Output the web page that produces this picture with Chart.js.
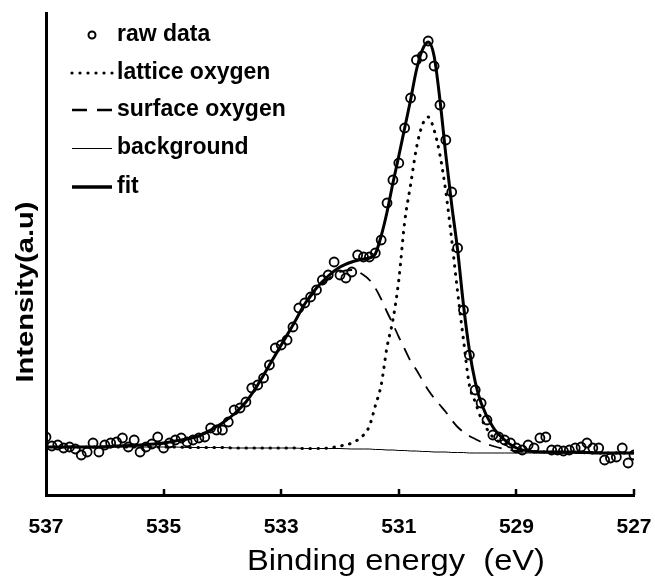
<!DOCTYPE html>
<html>
<head>
<meta charset="utf-8">
<script src="https://cdn.jsdelivr.net/npm/chart.js@4/dist/chart.umd.min.js"></script>
<style>
  html, body { margin: 0; padding: 0; background: #fff; }
  #wrap { width: 655px; height: 577px; position: relative; }
</style>
</head>
<body>
<div id="wrap"><canvas id="xps" width="655" height="577"></canvas></div>
<script>
// ---------- Data (binding energy in eV, intensity in arbitrary units) ----------
const rawE = [
  537.0, 536.9, 536.8, 536.7, 536.6, 536.5, 536.4, 536.3, 536.2, 536.1,
  536.0, 535.9, 535.8, 535.7, 535.6, 535.5, 535.4, 535.3, 535.2, 535.1,
  535.0, 534.9, 534.8, 534.7, 534.6, 534.5, 534.4, 534.3, 534.2, 534.1,
  534.0, 533.9, 533.8, 533.7, 533.6, 533.5, 533.4, 533.3, 533.2, 533.1,
  533.0, 532.9, 532.8, 532.7, 532.6, 532.5, 532.4, 532.3, 532.2, 532.1,
  532.0, 531.9, 531.8, 531.7, 531.6, 531.5, 531.4, 531.3, 531.2, 531.1,
  531.0, 530.9, 530.8, 530.7, 530.6, 530.5, 530.4, 530.3, 530.2, 530.1,
  530.0, 529.9, 529.8, 529.7, 529.6, 529.5, 529.4, 529.3, 529.2, 529.1,
  529.0, 528.9, 528.8, 528.7, 528.6, 528.5, 528.4, 528.3, 528.2, 528.1,
  528.0, 527.9, 527.8, 527.7, 527.6, 527.5, 527.4, 527.3, 527.2, 527.1,
  527.0
];
const rawI = [
  58, 49, 50, 47, 48, 46, 40, 43, 52, 43,
  50, 52, 53, 57, 48, 55, 43, 48, 51, 58,
  47, 52, 55, 57, 53, 55, 57, 58, 67, 65,
  65, 73, 85, 87, 93, 107, 110, 117, 130, 147,
  150, 155, 168, 187, 192, 198, 205, 215, 220, 233,
  220, 217, 223, 240, 238, 238, 242, 255, 292, 315,
  332, 367, 397, 435, 439, 454, 429, 390, 355, 303,
  247, 185, 140, 105, 92, 75, 60, 58, 55, 52,
  47, 45, 50, 47, 57, 58, 45, 45, 44, 45,
  47, 48, 52, 47, 47, 35, 37, 38, 47, 32,
  40
];

const lineE = [
  537, 536.6, 536.2, 535.8, 535.4, 535, 534.8, 534.6, 534.4, 534.2,
  534, 533.8, 533.6, 533.4, 533.2, 533, 532.8, 532.6, 532.4, 532.2,
  532, 531.8, 531.6, 531.5, 531.4, 531.3, 531.2, 531.1, 531, 530.9,
  530.8, 530.7, 530.6, 530.5, 530.4, 530.3, 530.2, 530.1, 530, 529.9,
  529.8, 529.7, 529.6, 529.4, 529.2, 529, 528.8, 528.4, 528, 527.6,
  527.2, 527
];
const latticeI = [
  48, 48, 48, 48, 48, 48, 48, 47.5, 47.5, 47.5,
  47.5, 47, 47, 47, 47, 47, 47, 46.5, 46.5, 47,
  49, 52, 60, 69, 89, 110, 148, 175, 215, 273,
  310, 347, 370, 378, 365, 340, 303, 255, 203, 155,
  110, 93, 77, 58, 51, 47, 44, 43, 42.5, 42,
  42, 42
];
const surfaceI = [
  48, 48, 48, 49, 50, 52, 54, 56, 59, 65,
  72, 81, 93, 110, 130, 150, 170, 190, 205, 216,
  223, 225, 220, 215, 207, 196, 183, 171, 158, 146,
  134, 125, 115, 105, 97, 90, 83, 75, 68, 63,
  59, 56, 53, 49, 46, 44, 43, 42.5, 42, 42,
  42, 42
];
const backgroundI = [
  48, 48, 48, 48, 48, 48, 48, 47.5, 47.5, 47.5,
  47.5, 47, 47, 47, 47, 47, 47, 46.5, 46.5, 46.5,
  46.5, 46, 46, 46, 45.5, 45.5, 45, 45, 44.5, 44.5,
  44, 44, 43.5, 43.5, 43, 43, 43, 42.5, 42.5, 42.5,
  42, 42, 42, 42, 42, 42, 42, 42, 42, 42,
  42, 42
];
const fitI = [
  48, 48, 48, 49, 50, 52, 54, 56, 59, 65,
  72, 81, 93, 110, 130, 150, 170, 191, 207, 219,
  228, 233, 236, 237, 241, 259, 283, 312, 339, 367,
  395, 425, 445, 453, 439, 395, 340, 290, 245, 190,
  145, 113, 92, 68, 55, 47, 44, 43, 43, 42,
  42, 42
];

const xTicks = [537, 535, 533, 531, 529, 527];
const seriesLabels = ["raw data", "lattice oxygen", "surface oxygen", "background", "fit"];
const xTitle = "Binding energy  (eV)";
const yTitle = "Intensity(a.u)";

// ---------- helpers ----------
function pts(xs, ys) {
  return xs.map((x, i) => ({ x: x, y: ys[i] }));
}

const FONT = "'Liberation Sans', Arial, sans-serif";

// ---------- plugin: inward tick marks, titles, legend ----------
const decorPlugin = {
  id: "decor",
  afterDraw(chart) {
    const ctx = chart.ctx;
    const xs = chart.scales.x;
    const area = chart.chartArea;
    ctx.save();
    ctx.strokeStyle = "#000";
    ctx.fillStyle = "#000";

    // tick marks pointing up into the plot
    ctx.lineWidth = 2.5;
    xTicks.slice(1).forEach(v => {
      const px = Math.round(xs.getPixelForValue(v));
      ctx.beginPath();
      ctx.moveTo(px, area.bottom);
      ctx.lineTo(px, area.bottom - 6);
      ctx.stroke();
    });

    // x title
    ctx.font = "30px " + FONT;
    ctx.textAlign = "center";
    ctx.textBaseline = "alphabetic";
    let w = ctx.measureText(xTitle).width;
    ctx.save();
    ctx.translate(396, 570);
    ctx.scale(298 / w, 1);
    ctx.fillText(xTitle, 0, 0);
    ctx.restore();

    // y title
    ctx.font = "bold 24px " + FONT;
    w = ctx.measureText(yTitle).width;
    ctx.save();
    ctx.translate(26, 292);
    ctx.rotate(-Math.PI / 2);
    ctx.scale(181 / w, 1);
    ctx.textBaseline = "middle";
    ctx.fillText(yTitle, 0, 0);
    ctx.restore();

    // legend
    const rows = [35, 73, 110, 148, 187];
    const x0 = 72, x1 = 112, tx = 117;
    // raw data marker
    ctx.lineWidth = 2;
    ctx.beginPath();
    ctx.arc(92, rows[0], 3.5, 0, Math.PI * 2);
    ctx.stroke();
    // lattice: dots
    for (let x = x0; x <= x1 + 0.1; x += 8) {
      ctx.beginPath();
      ctx.arc(x, rows[1], 1.6, 0, Math.PI * 2);
      ctx.fill();
    }
    // surface: dashes
    ctx.lineWidth = 2.5;
    ctx.beginPath();
    ctx.moveTo(x0, rows[2]); ctx.lineTo(x0 + 15, rows[2]);
    ctx.moveTo(x0 + 25, rows[2]); ctx.lineTo(x1, rows[2]);
    ctx.stroke();
    // background: thin
    ctx.lineWidth = 1;
    ctx.beginPath();
    ctx.moveTo(x0, rows[3] + 0.5); ctx.lineTo(x1, rows[3] + 0.5);
    ctx.stroke();
    // fit: thick
    ctx.lineWidth = 3.5;
    ctx.beginPath();
    ctx.moveTo(x0, rows[4]); ctx.lineTo(x1, rows[4]);
    ctx.stroke();

    ctx.font = "bold 23px " + FONT;
    ctx.textAlign = "left";
    ctx.textBaseline = "middle";
    seriesLabels.forEach((lab, i) => ctx.fillText(lab, tx, rows[i]));
    ctx.restore();
  }
};

// ---------- chart ----------
const ctx = document.getElementById("xps").getContext("2d");
const chart = new Chart(ctx, {
  type: "scatter",
  data: {
    datasets: [
      {
        label: seriesLabels[0],
        data: pts(rawE, rawI),
        showLine: false,
        pointStyle: "circle",
        pointRadius: 4.5,
        pointBorderWidth: 1.8,
        pointBorderColor: "#000",
        pointBackgroundColor: "rgba(255,255,255,0)"
      },
      {
        label: seriesLabels[1],
        data: pts(lineE, latticeI),
        showLine: true,
        pointRadius: 0,
        borderColor: "#000",
        borderWidth: 3,
        borderDash: [0.5, 7.5],
        borderCapStyle: "round",
        cubicInterpolationMode: "monotone"
      },
      {
        label: seriesLabels[2],
        data: pts(lineE, surfaceI),
        showLine: true,
        pointRadius: 0,
        borderColor: "#000",
        borderWidth: 1.8,
        borderDash: [13, 9],
        cubicInterpolationMode: "monotone"
      },
      {
        label: seriesLabels[3],
        data: pts(lineE, backgroundI),
        showLine: true,
        pointRadius: 0,
        borderColor: "#000",
        borderWidth: 1,
        cubicInterpolationMode: "monotone"
      },
      {
        label: seriesLabels[4],
        data: pts(lineE, fitI),
        showLine: true,
        pointRadius: 0,
        borderColor: "#000",
        borderWidth: 3,
        cubicInterpolationMode: "monotone"
      }
    ]
  },
  options: {
    responsive: false,
    animation: false,
    devicePixelRatio: 1,
    layout: { padding: { left: 0, top: 13, right: 21, bottom: 0 } },
    plugins: {
      legend: { display: false },
      tooltip: { enabled: false }
    },
    scales: {
      x: {
        type: "linear",
        reverse: true,
        min: 527,
        max: 537,
        afterBuildTicks: (scale) => { scale.ticks = xTicks.map(v => ({ value: v })); },
        afterFit: (scale) => {
          scale.height = 82;
          scale.paddingLeft = 0;
          scale.paddingRight = 0;
        },
        grid: { display: false, drawTicks: false },
        border: { display: true, color: "#000", width: 3 },
        ticks: {
          color: "#000",
          padding: 20,
          maxRotation: 0,
          autoSkip: false,
          font: { family: FONT, size: 21, weight: "bold" }
        }
      },
      y: {
        type: "linear",
        min: 0,
        max: 482,
        afterFit: (scale) => { scale.width = 46; },
        grid: { display: false, drawTicks: false },
        border: { display: true, color: "#000", width: 3 },
        ticks: { display: false }
      }
    }
  },
  plugins: [decorPlugin]
});
</script>
</body>
</html>
